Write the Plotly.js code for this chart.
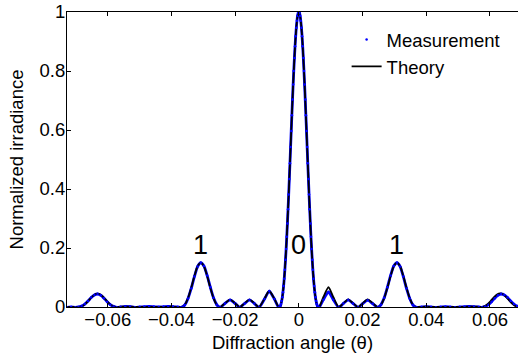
<!DOCTYPE html>
<html>
<head>
<meta charset="utf-8">
<script src="https://cdn.plot.ly/plotly-3.0.1.min.js"></script>
<style>html,body{margin:0;padding:0;background:#fff;}#chart{width:518px;height:355px;}</style>
</head>
<body>
<div id="chart"></div>
<script>
// Diffraction angle (theta) samples and normalized irradiance
const angleTheory = [
  -0.0728, -0.0710, -0.0692, -0.0682, -0.0672, -0.0662, -0.0652, -0.0642, -0.0632, -0.0622,
  -0.0612, -0.0602, -0.0592, -0.0582, -0.0572, -0.0560, -0.0540, -0.0520, -0.0500, -0.0480,
  -0.0460, -0.0440, -0.0420, -0.0400, -0.0380, -0.0370, -0.0363, -0.0358, -0.0348, -0.0338,
  -0.0328, -0.0318, -0.0308, -0.0298, -0.0288, -0.0278, -0.0268, -0.0258, -0.0253, -0.0247,
  -0.0232, -0.0216, -0.0200, -0.0186, -0.0170, -0.0155, -0.0140, -0.0125, -0.0108, -0.0093,
  -0.0077, -0.0064,
  -0.0062, -0.0060, -0.0058, -0.0056, -0.0054, -0.0052, -0.0050, -0.0048, -0.0046, -0.0044,
  -0.0042, -0.0040, -0.0038, -0.0036, -0.0034, -0.0032, -0.0030, -0.0028, -0.0026, -0.0024,
  -0.0022, -0.0020, -0.0018, -0.0016, -0.0014, -0.0012, -0.0010, -0.0008, -0.0006, -0.0004,
  -0.0002, 0,
  0.0002, 0.0004, 0.0006, 0.0008, 0.0010, 0.0012, 0.0014, 0.0016, 0.0018, 0.0020,
  0.0022, 0.0024, 0.0026, 0.0028, 0.0030, 0.0032, 0.0034, 0.0036, 0.0038, 0.0040,
  0.0042, 0.0044, 0.0046, 0.0048, 0.0050, 0.0052, 0.0054, 0.0056, 0.0058, 0.0060,
  0.0062,
  0.0064, 0.0077, 0.0093, 0.0108, 0.0125, 0.0140, 0.0155, 0.0170, 0.0186, 0.0200,
  0.0216, 0.0232, 0.0247, 0.0253, 0.0258, 0.0268, 0.0278, 0.0288, 0.0298, 0.0308,
  0.0318, 0.0328, 0.0338, 0.0348, 0.0358, 0.0363, 0.0370, 0.0380, 0.0400, 0.0420,
  0.0440, 0.0460, 0.0480, 0.0500, 0.0520, 0.0540, 0.0560, 0.0572, 0.0582, 0.0592,
  0.0602, 0.0612, 0.0622, 0.0632, 0.0642, 0.0652, 0.0662, 0.0672, 0.0682, 0.0692
];
const theory = [
  0, 0, 0, 0.0023, 0.009, 0.0195, 0.0316, 0.0413, 0.045, 0.0413,
  0.0316, 0.0195, 0.009, 0.0023, 0, 0.0008, 0.0012, 0.0006, 0, 0.0003,
  0.0005, 0, 0.0005, 0.001, 0.0003, 0, 0.0023, 0.0075, 0.030, 0.065,
  0.105, 0.138, 0.150, 0.138, 0.105, 0.065, 0.030, 0.0075, 0.0023, 0,
  0.013, 0.025, 0.013, 0, 0.013, 0.025, 0.013, 0, 0.028, 0.055,
  0.028, 0,
  0, 0.001, 0.004, 0.0105, 0.020, 0.033, 0.050, 0.071, 0.096, 0.126,
  0.160, 0.197, 0.238, 0.283, 0.331, 0.381, 0.434, 0.487, 0.542, 0.597,
  0.650, 0.703, 0.754, 0.800, 0.844, 0.884, 0.918, 0.947, 0.970, 0.987,
  0.997, 1,
  0.997, 0.987, 0.970, 0.947, 0.918, 0.884, 0.844, 0.800, 0.754, 0.703,
  0.650, 0.597, 0.542, 0.487, 0.434, 0.381, 0.331, 0.283, 0.238, 0.197,
  0.160, 0.126, 0.096, 0.071, 0.050, 0.033, 0.020, 0.0105, 0.004, 0.001,
  0,
  0, 0.034, 0.067, 0.034, 0, 0.013, 0.026, 0.013, 0, 0.013,
  0.026, 0.013, 0, 0.0023, 0.0075, 0.030, 0.065, 0.105, 0.138, 0.150,
  0.138, 0.105, 0.065, 0.030, 0.0075, 0.0023, 0, 0.0003, 0.001, 0.0005,
  0, 0.0005, 0.0003, 0, 0.0006, 0.0012, 0.0008, 0, 0.0024, 0.0092,
  0.020, 0.0325, 0.0425, 0.046, 0.0425, 0.0325, 0.020, 0.0092, 0.0024, 0
];
const angleMeasured = [
  -0.0728, -0.0715, -0.0702, -0.0692, -0.0682, -0.0672, -0.0662, -0.0652, -0.0642, -0.0632,
  -0.0622, -0.0612, -0.0602, -0.0592, -0.0582, -0.0572, -0.0560, -0.0545, -0.0530, -0.0515,
  -0.0500, -0.0485, -0.0470, -0.0455, -0.0440, -0.0425, -0.0410, -0.0395, -0.0380, -0.0370,
  -0.0363, -0.0358, -0.0348, -0.0338, -0.0328, -0.0318, -0.0308, -0.0298, -0.0288, -0.0278,
  -0.0268, -0.0258, -0.0253, -0.0247, -0.0232, -0.0216, -0.0200, -0.0186, -0.0170, -0.0155,
  -0.0140, -0.0125, -0.0108, -0.0093, -0.0077, -0.0064,
  -0.0062, -0.0060, -0.0058, -0.0056, -0.0054, -0.0052, -0.0050, -0.0048, -0.0046, -0.0044,
  -0.0042, -0.0040, -0.0038, -0.0036, -0.0034, -0.0032, -0.0030, -0.0028, -0.0026, -0.0024,
  -0.0022, -0.0020, -0.0018, -0.0016, -0.0014, -0.0012, -0.0010, -0.0008, -0.0006, -0.0004,
  -0.0002, 0,
  0.0002, 0.0004, 0.0006, 0.0008, 0.0010, 0.0012, 0.0014, 0.0016, 0.0018, 0.0020,
  0.0022, 0.0024, 0.0026, 0.0028, 0.0030, 0.0032, 0.0034, 0.0036, 0.0038, 0.0040,
  0.0042, 0.0044, 0.0046, 0.0048, 0.0050, 0.0052, 0.0054, 0.0056, 0.0058, 0.0060,
  0.0062,
  0.0064, 0.0077, 0.0093, 0.0108, 0.0125, 0.0140, 0.0155, 0.0170, 0.0186, 0.0200,
  0.0216, 0.0232, 0.0247, 0.0253, 0.0258, 0.0268, 0.0278, 0.0288, 0.0298, 0.0308,
  0.0318, 0.0328, 0.0338, 0.0348, 0.0358, 0.0363, 0.0370, 0.0385, 0.0400, 0.0415,
  0.0430, 0.0445, 0.0460, 0.0475, 0.0490, 0.0505, 0.0520, 0.0535, 0.0550, 0.0565,
  0.0575, 0.0585, 0.0595, 0.0605, 0.0615, 0.0625, 0.0635, 0.0645, 0.0655, 0.0665,
  0.0675, 0.0685, 0.0695
];
const measurement = [
  -0.001, 0.000, -0.001, 0.000, 0.003, 0.010, 0.020, 0.032, 0.041, 0.044,
  0.040, 0.030, 0.018, 0.008, 0.002, -0.001, 0.000, 0.002, 0.001, -0.001,
  0.000, 0.001, 0.002, 0.001, 0.000, 0.001, 0.002, 0.001, 0.000, -0.001,
  0.002, 0.007, 0.029, 0.063, 0.103, 0.137, 0.150, 0.139, 0.107, 0.067,
  0.031, 0.008, 0.002, -0.001, 0.012, 0.024, 0.012, -0.001, 0.012, 0.024,
  0.012, -0.001, 0.027, 0.054, 0.027, -0.001,
  0, 0.001, 0.004, 0.0105, 0.020, 0.033, 0.050, 0.071, 0.096, 0.126,
  0.160, 0.197, 0.238, 0.283, 0.331, 0.381, 0.434, 0.487, 0.542, 0.597,
  0.650, 0.703, 0.754, 0.800, 0.844, 0.884, 0.918, 0.947, 0.970, 0.987,
  0.997, 1,
  0.997, 0.987, 0.970, 0.947, 0.918, 0.884, 0.844, 0.800, 0.754, 0.703,
  0.650, 0.597, 0.542, 0.487, 0.434, 0.381, 0.331, 0.283, 0.238, 0.197,
  0.160, 0.126, 0.096, 0.071, 0.050, 0.033, 0.020, 0.0105, 0.004, 0.001,
  0,
  -0.001, 0.025, 0.051, 0.025, -0.001, 0.012, 0.024, 0.012, -0.001, 0.011,
  0.023, 0.011, -0.001, 0.002, 0.008, 0.031, 0.067, 0.107, 0.139, 0.150,
  0.137, 0.103, 0.063, 0.029, 0.007, 0.002, -0.001, 0.000, 0.001, 0.000,
  -0.001, 0.000, 0.001, 0.000, -0.001, 0.000, 0.001, 0.002, 0.001, 0.000,
  -0.001, 0.002, 0.008, 0.018, 0.030, 0.040, 0.044, 0.041, 0.032, 0.020,
  0.010, 0.003, 0.000
];
const xTickValues = [-0.06, -0.04, -0.02, 0, 0.02, 0.04, 0.06];
const xTickLabels = ["\u22120.06", "\u22120.04", "\u22120.02", "0", "0.02", "0.04", "0.06"];
const yTickValues = [0, 0.2, 0.4, 0.6, 0.8, 1];
const yTickLabels = ["0", "0.2", "0.4", "0.6", "0.8", "1"];
const orderLabels = ["1", "0", "1"];
const orderAngles = [-0.0308, 0, 0.0305];

const FONT = "Liberation Sans, Arial, sans-serif";

const traces = [
  {
    x: angleMeasured, y: measurement, type: "scatter", mode: "lines",
    line: {color: "#0000ff", width: 2.8, shape: "spline", smoothing: 0.6},
    showlegend: false, hoverinfo: "skip"
  },
  {
    x: angleTheory, y: theory, type: "scatter", mode: "lines", name: "Theory",
    line: {color: "#000000", width: 1.8, shape: "spline", smoothing: 0.6},
    legendrank: 2
  },
  {
    x: angleMeasured, y: measurement, type: "scatter", mode: "markers", name: "Measurement",
    marker: {color: "#0000ff", size: 2.5},
    legendrank: 1
  }
];

const axisCommon = {
  showgrid: false, zeroline: false, showline: true, linecolor: "#000", linewidth: 1,
  ticks: "inside", ticklen: 4, tickcolor: "#000", tickwidth: 1,
  tickfont: {family: FONT, size: 18.5, color: "#000"}
};

const layout = {
  width: 518, height: 355,
  margin: {l: 67, r: 0, t: 12, b: 48, pad: 0},
  paper_bgcolor: "#fff", plot_bgcolor: "#fff",
  font: {family: FONT, color: "#000"},
  xaxis: Object.assign({}, axisCommon, {
    range: [-0.0728, 0.0688], tickmode: "array", tickvals: xTickValues, ticktext: xTickLabels,
    mirror: "ticks", ticklabelstandoff: -4,
    title: {text: "Diffraction angle (\u03b8)", font: {family: FONT, size: 18.5, color: "#000"}, standoff: 6}
  }),
  yaxis: Object.assign({}, axisCommon, {
    range: [0, 1], tickmode: "array", tickvals: yTickValues, ticktext: yTickLabels,
    ticklabelstandoff: -3,
    title: {text: "Normalized irradiance", font: {family: FONT, size: 18.5, color: "#000"}, standoff: 11}
  }),
  legend: {
    x: 0.62, y: 0.97, xanchor: "left", yanchor: "top",
    bgcolor: "rgba(0,0,0,0)", borderwidth: 0,
    font: {family: FONT, size: 18.5, color: "#000"},
    tracegroupgap: 0
  },
  annotations: orderLabels.map((t, i) => ({
    x: orderAngles[i], y: 0.21, xref: "x", yref: "y", text: t, showarrow: false,
    font: {family: FONT, size: 27, color: "#000"}
  }))
};

Plotly.newPlot("chart", traces, layout, {staticPlot: true, displayModeBar: false});
</script>
</body>
</html>
